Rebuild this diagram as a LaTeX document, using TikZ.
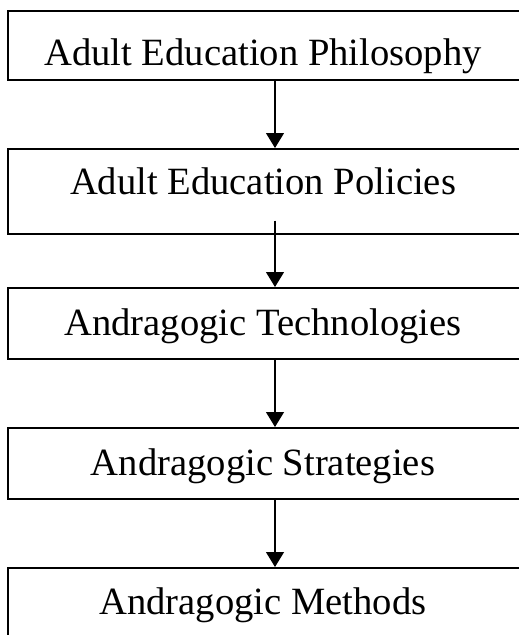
\documentclass[tikz,border=0pt]{standalone}
\usepackage{fontspec}
\setmainfont{Liberation Serif}
\usetikzlibrary{arrows.meta,calc}
\tikzset{
  stagebox/.style={draw=black, line width=1.6pt, fill=white},
  stagetext/.style={anchor=base, inner sep=0pt, font=\fontsize{38.6}{40}\selectfont},
  flowarrow/.style={line width=1.2pt, -{Triangle[width=18pt,length=15pt]}}
}
\begin{document}
\begin{tikzpicture}[x=1pt,y=-1pt]
\useasboundingbox (0,0) rectangle (519,635);
\clip (0,0) rectangle (519,635);
\node[stagebox, minimum width=514pt, minimum height=69pt, anchor=north west] (b1) at (7,10) {};
\node[stagebox, minimum width=514pt, minimum height=85pt, anchor=north west] (b2) at (7,148) {};
\node[stagebox, minimum width=514pt, minimum height=71pt, anchor=north west] (b3) at (7,287) {};
\node[stagebox, minimum width=514pt, minimum height=71pt, anchor=north west] (b4) at (7,427) {};
\node[stagebox, minimum width=514pt, minimum height=90pt, anchor=north west] (b5) at (7,567) {};
\node[stagetext] (t1) at (263,65) {Adult Education Philosophy};
\node[stagetext] (t2) at (263,194) {Adult Education Policies};
\node[stagetext] (t3) at (263,335) {Andragogic Technologies};
\node[stagetext] (t4) at (263,475) {Andragogic Strategies};
\node[stagetext] (t5) at (263,614) {Andragogic Methods};
\coordinate (ax) at (275,0);
\draw[flowarrow] (b1.south -| ax) -- (b2.north -| ax);
\draw[flowarrow] ([yshift=14pt]b2.south -| ax) -- (b3.north -| ax);
\draw[flowarrow] (b3.south -| ax) -- (b4.north -| ax);
\draw[flowarrow] (b4.south -| ax) -- (b5.north -| ax);
\end{tikzpicture}
\end{document}
